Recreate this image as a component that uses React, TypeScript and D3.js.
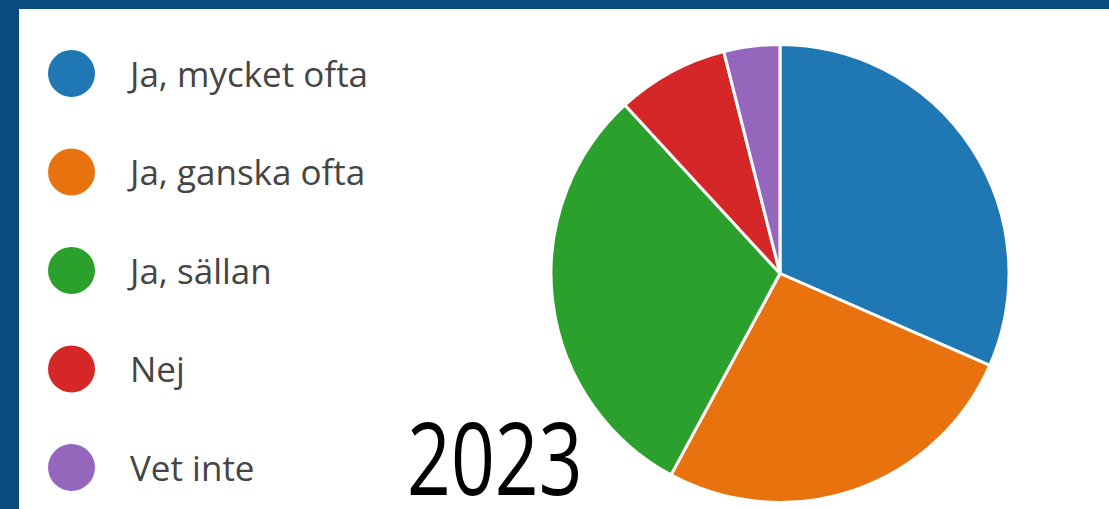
import React from "react";
import * as d3 from "d3";

// svarsalternativ och antal svar
const categories = ["Ja, mycket ofta", "Ja, ganska ofta", "Ja, sällan", "Nej", "Vet inte"];
const counts = [24, 20, 23, 6, 3];
const colors = ["#1f77b4", "#e8730e", "#2ca02c", "#d62728", "#9467bd"];
const yearLabel = "2023";

const W = 1109;
const H = 509;

export default function App() {
  const data = categories.map((c, i) => ({ name: c, value: counts[i], color: colors[i] }));

  const pie = d3.pie<any>().value(d => d.value).sort(null);
  const arcs = pie(data);
  const arc = d3.arc<any>().innerRadius(0).outerRadius(229);

  const legendY = d3.scalePoint<string>().domain(categories).range([73.5, 467.5]);

  return (
    <svg width={W} height={H} style={{ position: "absolute", left: 0, top: 0, display: "block" }}>
      <rect x={0} y={0} width={W} height={H} fill="#0a4a7d" />
      <rect x={19} y={9} width={W - 19} height={H - 9} fill="#ffffff" />

      <g transform="translate(780,273.5)">
        {arcs.map((a, i) => (
          <path key={i} d={arc(a) as string} fill={a.data.color} stroke="#fff" strokeWidth={3} strokeLinejoin="round" />
        ))}
      </g>

      <g>
        {data.map(d => (
          <g key={d.name} transform={`translate(0,${legendY(d.name)})`}>
            <circle cx={71.5} cy={0} r={23.5} fill={d.color} />
            <text x={130} y={13} fontFamily="'Open Sans', sans-serif" fontSize={35} fill="#454545">
              {d.name}
            </text>
          </g>
        ))}
      </g>

      <text
        transform="translate(407,495) scale(0.76,1)"
        fontFamily="'Open Sans', sans-serif"
        fontSize={101}
        fill="#000"
      >
        {yearLabel}
      </text>
    </svg>
  );
}
